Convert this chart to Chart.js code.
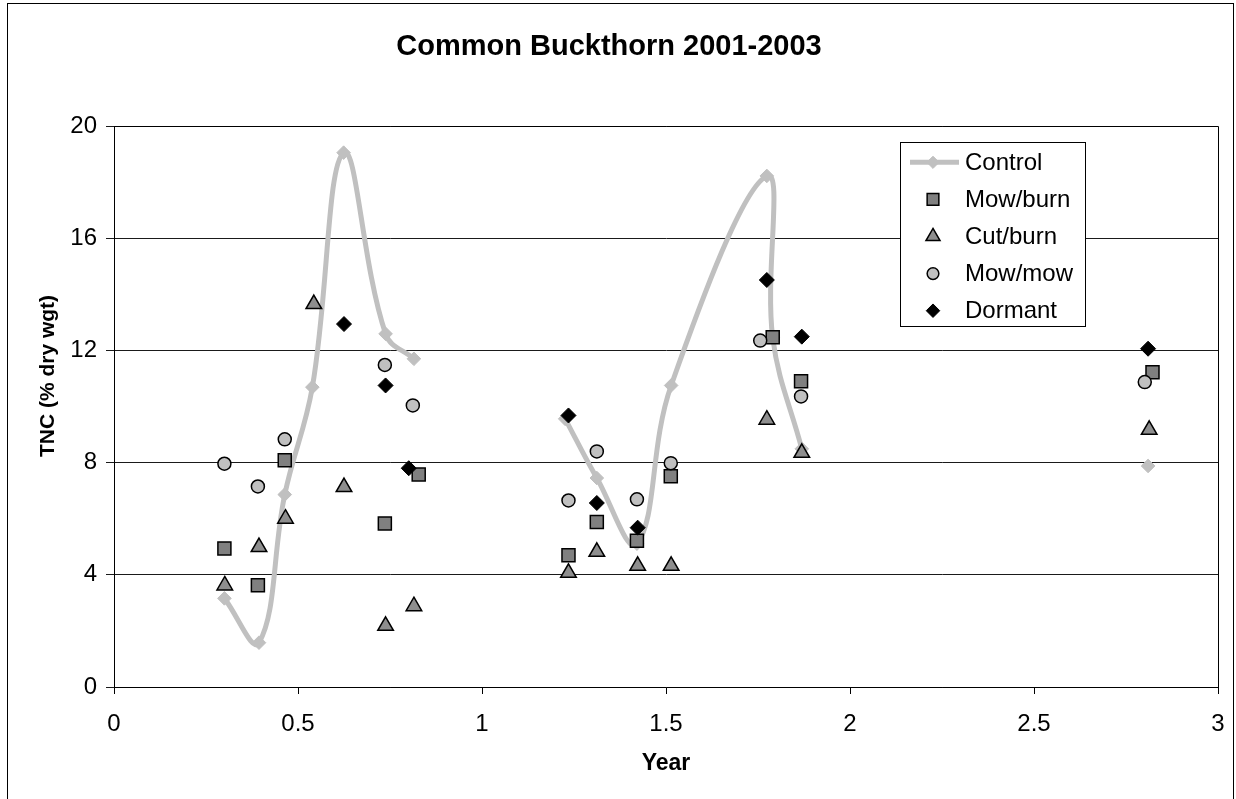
<!DOCTYPE html>
<html>
<head>
<meta charset="utf-8">
<title>Common Buckthorn 2001-2003</title>
<script src="https://cdn.jsdelivr.net/npm/chart.js@4/dist/chart.umd.min.js"></script>
<style>
  html, body { margin: 0; padding: 0; background: #fff; }
  canvas { display: block; }
</style>
</head>
<body>
<canvas id="chart" width="1236" height="799"></canvas>
<script>
const FONT = '"Liberation Sans", Arial, Helvetica, sans-serif';

// Axis ticks
const xTickValues = [0, 0.5, 1, 1.5, 2, 2.5, 3];
const yTickValues = [0, 4, 8, 12, 16, 20];
const yAxisTitle = 'TNC (% dry wgt)';

// Control: null entries break the smoothed line between sampling seasons
const controlYear = [0.300, 0.394, 0.464, 0.539, 0.624, 0.738, 0.815, 1.0, 1.226, 1.312, 1.421, 1.514, 1.774, 1.790, 1.869, 2.3, 2.810];
const controlTNC  = [3.16, 1.58, 6.86, 10.69, 19.05, 12.59, 11.70, null, 9.56, 7.45, 5.11, 10.75, 18.22, 12.45, 8.49, null, 7.88];

const mowBurnYear = [0.300, 0.391, 0.464, 0.736, 0.828, 1.235, 1.312, 1.421, 1.513, 1.790, 1.867, 2.822];
const mowBurnTNC  = [4.94, 3.63, 8.08, 5.83, 7.58, 4.70, 5.88, 5.21, 7.51, 12.47, 10.90, 11.22];

const cutBurnYear = [0.301, 0.394, 0.466, 0.543, 0.625, 0.738, 0.815, 1.235, 1.312, 1.423, 1.514, 1.774, 1.869, 2.813];
const cutBurnTNC  = [3.62, 4.99, 6.00, 13.65, 7.13, 2.18, 2.88, 4.07, 4.82, 4.32, 4.32, 9.53, 8.35, 9.17];

const mowMowYear = [0.300, 0.391, 0.464, 0.736, 0.812, 1.235, 1.312, 1.421, 1.513, 1.756, 1.867, 2.801];
const mowMowTNC  = [7.96, 7.15, 8.83, 11.48, 10.04, 6.65, 8.40, 6.69, 7.98, 12.35, 10.36, 10.87];

const dormantYear = [0.625, 0.738, 0.801, 1.235, 1.312, 1.423, 1.774, 1.869, 2.810];
const dormantTNC  = [12.94, 10.75, 7.80, 9.68, 6.56, 5.68, 14.51, 12.49, 12.06];

const toPoints = (xs, ys) => xs.map((x, i) => ({ x: x, y: ys[i] }));

// Marker drawing shared by the inset legend
function drawMarker(ctx, style, r, x, y) {
  ctx.beginPath();
  if (style === 'rect') {
    const s = Math.SQRT1_2 * r;
    ctx.rect(x - s, y - s, 2 * s, 2 * s);
  } else if (style === 'triangle') {
    ctx.moveTo(x, y - r);
    ctx.lineTo(x + Math.sin(2 * Math.PI / 3) * r, y + r / 2);
    ctx.lineTo(x - Math.sin(2 * Math.PI / 3) * r, y + r / 2);
    ctx.closePath();
  } else if (style === 'rectRot') {
    ctx.moveTo(x - r, y);
    ctx.lineTo(x, y - r);
    ctx.lineTo(x + r, y);
    ctx.lineTo(x, y + r);
    ctx.closePath();
  } else {
    ctx.arc(x, y, r, 0, Math.PI * 2);
  }
  ctx.fill();
  ctx.stroke();
}

const pageFrame = {
  id: 'pageFrame',
  beforeDraw(chart) {
    const ctx = chart.ctx;
    ctx.save();
    ctx.fillStyle = '#fff';
    ctx.fillRect(0, 0, chart.width, chart.height);
    ctx.strokeStyle = '#000';
    ctx.lineWidth = 1;
    ctx.strokeRect(7.5, 3.5, 1226, chart.height + 10);
    ctx.restore();
  }
};

const plotFrame = {
  id: 'plotFrame',
  beforeDatasetsDraw(chart) {
    const { ctx, chartArea: a } = chart;
    ctx.save();
    ctx.strokeStyle = '#000';
    ctx.lineWidth = 1;
    ctx.beginPath();
    ctx.moveTo(Math.round(a.left) + 0.5, Math.round(a.top) + 0.5);
    ctx.lineTo(Math.round(a.right) + 0.5, Math.round(a.top) + 0.5);
    ctx.lineTo(Math.round(a.right) + 0.5, Math.round(a.bottom) + 0.5);
    ctx.stroke();
    ctx.restore();
  }
};

// Rotated value-axis title
const valueAxisTitle = {
  id: 'valueAxisTitle',
  afterDraw(chart, args, o) {
    const ctx = chart.ctx;
    ctx.save();
    ctx.translate(o.x, o.y);
    ctx.rotate(-Math.PI / 2);
    ctx.font = 'bold ' + o.fontSize + 'px ' + FONT;
    ctx.fillStyle = '#000';
    ctx.textAlign = 'center';
    ctx.textBaseline = 'middle';
    ctx.fillText(o.text, 0, 0);
    ctx.restore();
  }
};

const insetLegend = {
  id: 'insetLegend',
  afterDraw(chart, args, o) {
    const ctx = chart.ctx;
    ctx.save();
    ctx.fillStyle = '#fff';
    ctx.fillRect(o.left, o.top, o.width, o.height);
    ctx.strokeStyle = '#000';
    ctx.lineWidth = 1;
    ctx.strokeRect(o.left + 0.5, o.top + 0.5, o.width, o.height);
    ctx.font = o.fontSize + 'px ' + FONT;
    ctx.textBaseline = 'middle';
    ctx.textAlign = 'left';
    chart.data.datasets.forEach((ds, i) => {
      const y = o.top + o.firstRow + i * o.rowGap;
      const mx = o.left + o.markerX;
      if (ds.showLine) {
        ctx.strokeStyle = ds.borderColor;
        ctx.lineWidth = ds.borderWidth;
        ctx.beginPath();
        ctx.moveTo(mx - 23, y);
        ctx.lineTo(mx + 26, y);
        ctx.stroke();
      }
      ctx.fillStyle = ds.pointBackgroundColor;
      ctx.strokeStyle = ds.pointBorderColor;
      ctx.lineWidth = ds.pointBorderWidth;
      drawMarker(ctx, ds.pointStyle, ds.pointRadius * o.markerScale, mx, y);
      ctx.fillStyle = '#000';
      ctx.fillText(ds.label, o.left + o.textX, y + 1);
    });
    ctx.restore();
  }
};

new Chart(document.getElementById('chart').getContext('2d'), {
  type: 'line',
  data: {
    datasets: [
      {
        label: 'Control',
        data: toPoints(controlYear, controlTNC),
        showLine: true,
        spanGaps: false,
        tension: 0.4,
        borderColor: '#C0C0C0',
        borderWidth: 5,
        pointStyle: 'rectRot',
        pointRadius: 6.8,
        pointBackgroundColor: '#C0C0C0',
        pointBorderColor: '#C0C0C0',
        pointBorderWidth: 1,
        order: 5
      },
      {
        label: 'Mow/burn',
        data: toPoints(mowBurnYear, mowBurnTNC),
        showLine: false,
        pointStyle: 'rect',
        pointRadius: 9.2,
        pointBackgroundColor: '#808080',
        pointBorderColor: '#000',
        pointBorderWidth: 1.5,
        order: 4
      },
      {
        label: 'Cut/burn',
        data: toPoints(cutBurnYear, cutBurnTNC),
        showLine: false,
        pointStyle: 'triangle',
        pointRadius: 9,
        pointBackgroundColor: '#8E8E8E',
        pointBorderColor: '#000',
        pointBorderWidth: 1.5,
        order: 3
      },
      {
        label: 'Mow/mow',
        data: toPoints(mowMowYear, mowMowTNC),
        showLine: false,
        pointStyle: 'circle',
        pointRadius: 6.5,
        pointBackgroundColor: '#C0C0C0',
        pointBorderColor: '#000',
        pointBorderWidth: 1.5,
        order: 2
      },
      {
        label: 'Dormant',
        data: toPoints(dormantYear, dormantTNC),
        showLine: false,
        pointStyle: 'rectRot',
        pointRadius: 7.5,
        pointBackgroundColor: '#000',
        pointBorderColor: '#000',
        pointBorderWidth: 1,
        order: 1
      }
    ]
  },
  options: {
    responsive: false,
    animation: false,
    devicePixelRatio: 1,
    events: [],
    layout: { padding: { left: 0, right: 18, top: 0, bottom: 0 } },
    plugins: {
      legend: { display: false },
      tooltip: { enabled: false },
      title: {
        display: true,
        text: 'Common Buckthorn 2001-2003',
        color: '#000',
        font: { family: FONT, size: 29, weight: 'bold', lineHeight: 1.2 },
        padding: { top: 30, bottom: 61.2 }
      },
      valueAxisTitle: { text: yAxisTitle, x: 48, y: 376, fontSize: 21 },
      insetLegend: {
        left: 900, top: 142, width: 185, height: 184,
        firstRow: 20.3, rowGap: 37.1,
        markerX: 33, textX: 65,
        fontSize: 24, markerScale: 0.9
      }
    },
    scales: {
      x: {
        type: 'linear',
        min: 0,
        max: 3,
        afterBuildTicks: s => { s.ticks = xTickValues.map(v => ({ value: v })); },
        afterFit: s => { s.height = 112; s.paddingLeft = 0; s.paddingRight = 0; },
        ticks: {
          color: '#000',
          font: { family: FONT, size: 24 },
          padding: 16,
          maxRotation: 0,
          autoSkip: false,
          callback: v => String(v)
        },
        grid: { drawOnChartArea: false, drawTicks: true, tickLength: 7, color: '#000', lineWidth: 1 },
        border: { display: true, color: '#000', width: 1 },
        title: {
          display: true,
          text: 'Year',
          color: '#000',
          font: { family: FONT, size: 23, weight: 'bold', lineHeight: 1.2 },
          padding: { top: 0, bottom: 22 }
        }
      },
      y: {
        type: 'linear',
        min: 0,
        max: 20,
        afterBuildTicks: s => { s.ticks = yTickValues.map(v => ({ value: v })); },
        afterFit: s => { s.width = 114; s.paddingTop = 0; s.paddingBottom = 0; },
        ticks: {
          color: '#000',
          font: { family: FONT, size: 24 },
          padding: 9,
          callback: v => String(v)
        },
        grid: { drawOnChartArea: true, drawTicks: true, tickLength: 8, color: '#1a1a1a', lineWidth: 1 },
        border: { display: true, color: '#000', width: 1 },
        title: { display: false }
      }
    }
  },
  plugins: [pageFrame, plotFrame, valueAxisTitle, insetLegend]
});
</script>
</body>
</html>
